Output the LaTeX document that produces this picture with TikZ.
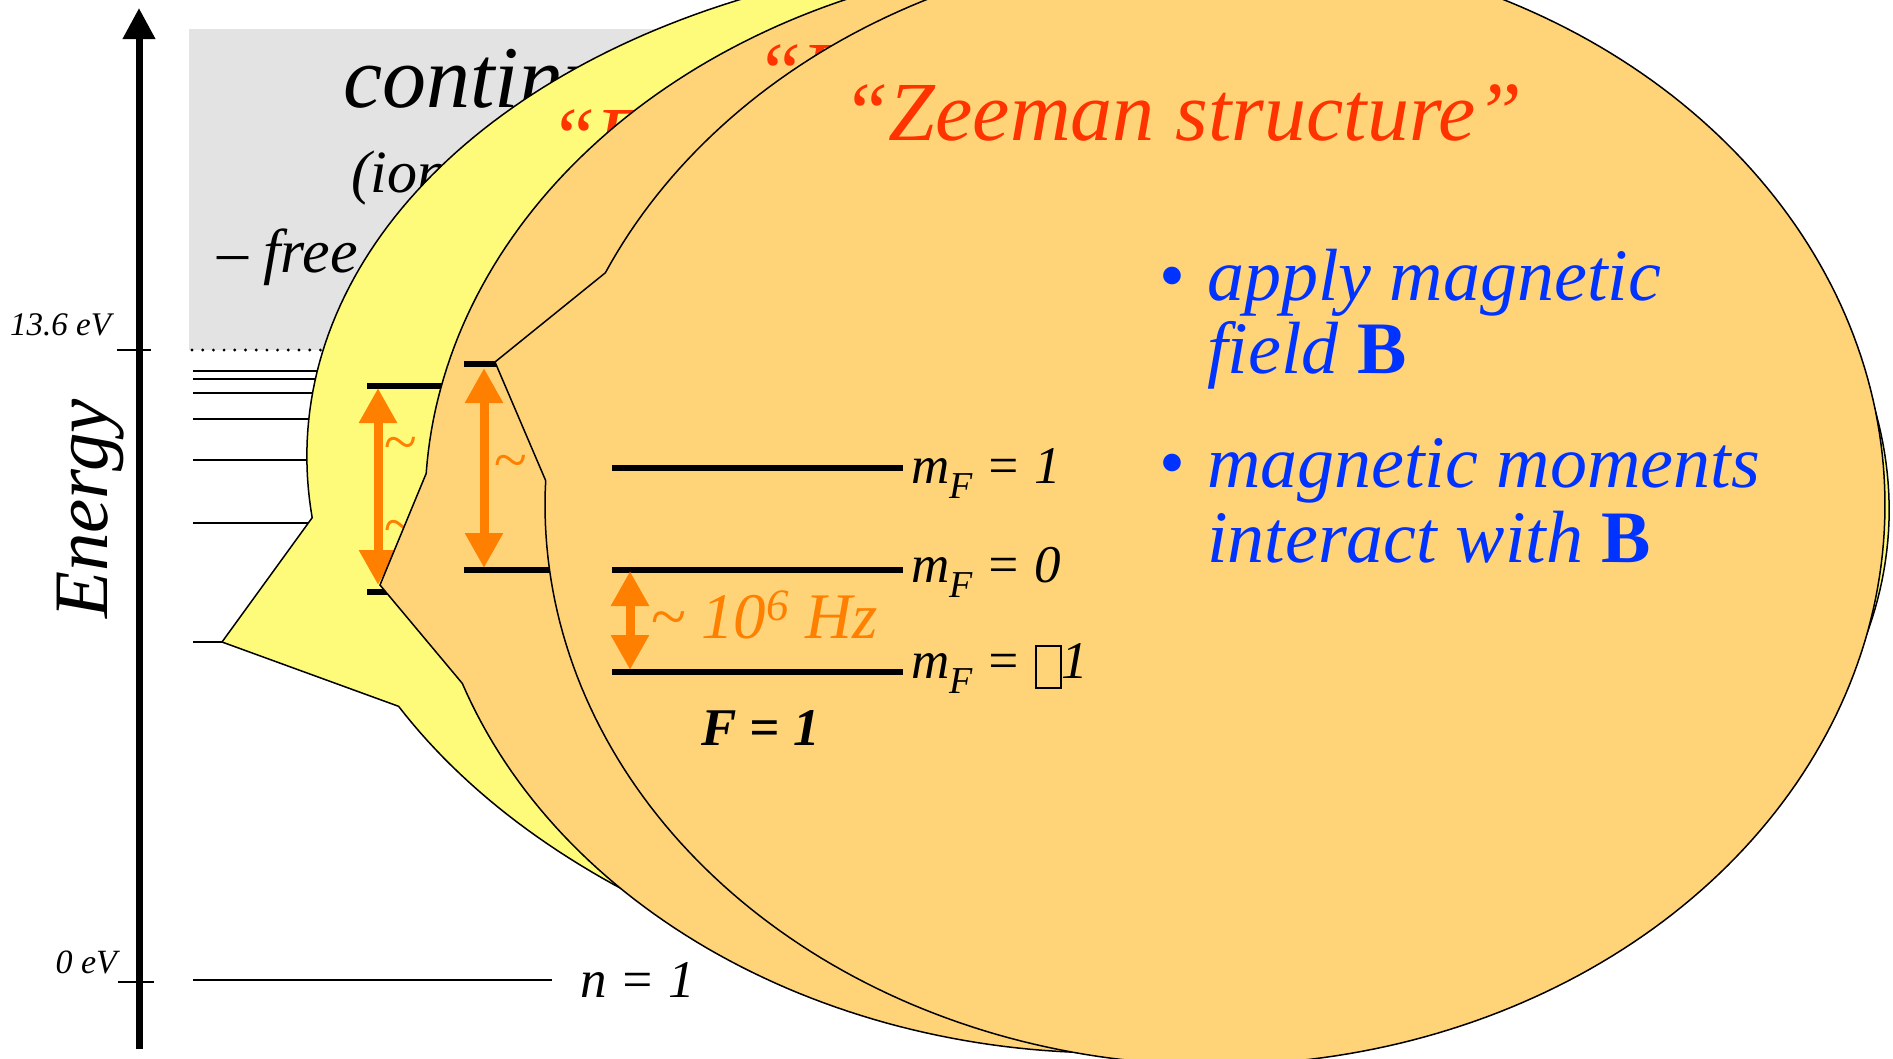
\documentclass[tikz,border=0pt]{standalone}
\usepackage{fontspec}
\setmainfont{Liberation Serif}
\usetikzlibrary{arrows.meta}
\definecolor{greybg}{RGB}{227,227,227}
\definecolor{yel}{RGB}{255,251,122}
\definecolor{org}{RGB}{255,212,121}
\definecolor{arr}{RGB}{255,128,0}
\definecolor{ttl}{RGB}{255,51,0}
\definecolor{blu}{RGB}{0,51,255}
\newcommand{\myfs}[1]{\fontsize{#1}{#1}\selectfont}
\newcommand{\missbox}{{\setlength{\fboxsep}{0pt}\setlength{\fboxrule}{2pt}\raisebox{-9pt}{\fbox{\rule{0pt}{40pt}\hspace{23pt}}}}}
\tikzset{
  txt/.style={inner sep=0pt, outer sep=0pt},
  callout/.style={draw=black, line width=1.5pt, line join=miter},
  bar/.style={line width=6pt},
  lvl/.style={line width=1.8pt},
  darr/.style={arr, line width=9pt, {Triangle[width=36pt,length=35pt]}-{Triangle[width=36pt,length=35pt]}},
}
\begin{document}
\begin{tikzpicture}[x=1pt,y=-1pt]
\useasboundingbox (0,0) rectangle (1893,1058);
\clip (0,0) rectangle (1893,1058);
\fill[white] (0,0) rectangle (1893,1058);
% continuum box
\fill[greybg] (189,29) rectangle (1000,350);
\node[txt,anchor=base west] (cont) at (343,107) {\myfs{88}\itshape continuum};
\node[txt,anchor=base west] (ioniz) at (351,192) {\myfs{60}\itshape (ionization)};
\node[txt,anchor=base west] (free) at (217,272) {\myfs{62}\itshape – free electron};
\draw[line width=3.2pt, line cap=round, dash pattern=on 0pt off 10.7pt] (192,350) -- (330,350);
% levels
\foreach \yy in {370.7,378.7,393.3,419.3,460,523.3} \draw[lvl] (193,\yy) -- (340,\yy);
\draw[lvl] (193,642) -- (222,642);
\draw[line width=2.2pt] (193,980) -- (552,980);
\node[txt,anchor=base west] (n1) at (580,997) {\myfs{53}\itshape n = 1};
% axis
\draw[line width=7pt, -{Triangle[width=31pt,length=31pt]}] (139,1049) -- (139,8);
\draw[line width=2.5pt] (117,350) -- (151,350);
\draw[line width=2.5pt] (118,982) -- (154,982);
\node[txt,anchor=base east] (e136) at (111,335) {\myfs{33}\itshape 13.6 eV};
\node[txt,anchor=base east] (e0) at (117,973) {\myfs{34}\itshape 0 eV};
\node[txt,anchor=base,rotate=90] (energy) at (107,509) {\myfs{77}\itshape Energy};
% yellow callout (slightly tilted ellipse)
\coordinate (ytip) at (222,642);
\filldraw[callout, fill=yel] plot[domain=171:509.8,samples=320,variable=\t] ({1098+790.52*cos(\t)-32.23*sin(\t)},{483+48.35*cos(\t)+527.01*sin(\t)}) -- (ytip) -- cycle;
\node[txt,anchor=base west,text=ttl] (ytitle) at (549,165) {\myfs{84}\itshape “Fine structure”};
\draw[bar] (367,386) -- (500,386);
\draw[bar] (367,592) -- (450,592);
\draw[darr] (378,388) -- (378,585);
\node[txt,text=arr] (yt1) at (400,450) {\myfs{61}\itshape\textasciitilde};
\node[txt,text=arr] (yt2) at (400,533) {\myfs{61}\itshape\textasciitilde};
% middle callout
\coordinate (mtip) at (380,585);
\filldraw[callout, fill=org] plot[domain=183.3:521,samples=300,variable=\t] ({1110+685*cos(\t)},{505+548*sin(\t)}) -- (mtip) -- cycle;
\node[txt,anchor=base west,text=ttl] (mtitle) at (755,100) {\myfs{84}\itshape “Hyperfine structure”};
\draw[bar] (464,364) -- (540,364);
\draw[bar] (464,570) -- (600,570);
\draw[darr] (484,368) -- (484,568);
\node[txt,text=arr] (mt1) at (510,468) {\myfs{61}\itshape\textasciitilde};
% front callout
\coordinate (ftip) at (495,362);
\filldraw[callout, fill=org] plot[domain=204.5:542.5,samples=300,variable=\t] ({1215+670*cos(\t)},{505+560*sin(\t)}) -- (ftip) -- cycle;
\node[txt,anchor=base west,text=ttl] (ftitle) at (842,140) {\myfs{84}\itshape “Zeeman structure”};
\draw[bar] (612,468) -- (903,468);
\draw[bar] (612,570) -- (903,570);
\draw[bar] (612,672) -- (903,672);
\draw[darr] (630,571) -- (630,670);
\node[txt,anchor=base west,text=arr] (hz) at (650,638) {\myfs{65}\itshape\textasciitilde{} 10\raisebox{18pt}{\myfs{45}6} Hz};
\node[txt,anchor=base west] (mf1) at (911,483) {\myfs{53}\itshape m\raisebox{-15pt}{\myfs{38}F} = 1};
\node[txt,anchor=base west] (mf0) at (911,582) {\myfs{53}\itshape m\raisebox{-15pt}{\myfs{38}F} = 0};
\node[txt,anchor=base west] (mfm) at (911,678) {\myfs{53}\itshape m\raisebox{-15pt}{\myfs{38}F} = \missbox1};
\node[txt,anchor=base west] (F1) at (701,745) {\myfs{53}\bfseries\itshape F = 1};
% bullets
\node[txt,anchor=base west,text=blu] (b1) at (1159,300) {\myfs{74}•};
\node[txt,anchor=base west,text=blu] (l1) at (1207,300) {\myfs{74}\itshape apply magnetic};
\node[txt,anchor=base west,text=blu] (l2) at (1207,373) {\myfs{74}\itshape field \upshape\bfseries B};
\node[txt,anchor=base west,text=blu] (b2) at (1159,487) {\myfs{74}•};
\node[txt,anchor=base west,text=blu] (l3) at (1207,487) {\myfs{74}\itshape magnetic moments};
\node[txt,anchor=base west,text=blu] (l4) at (1207,562) {\myfs{74}\itshape interact with \upshape\bfseries B};
\end{tikzpicture}
\end{document}
